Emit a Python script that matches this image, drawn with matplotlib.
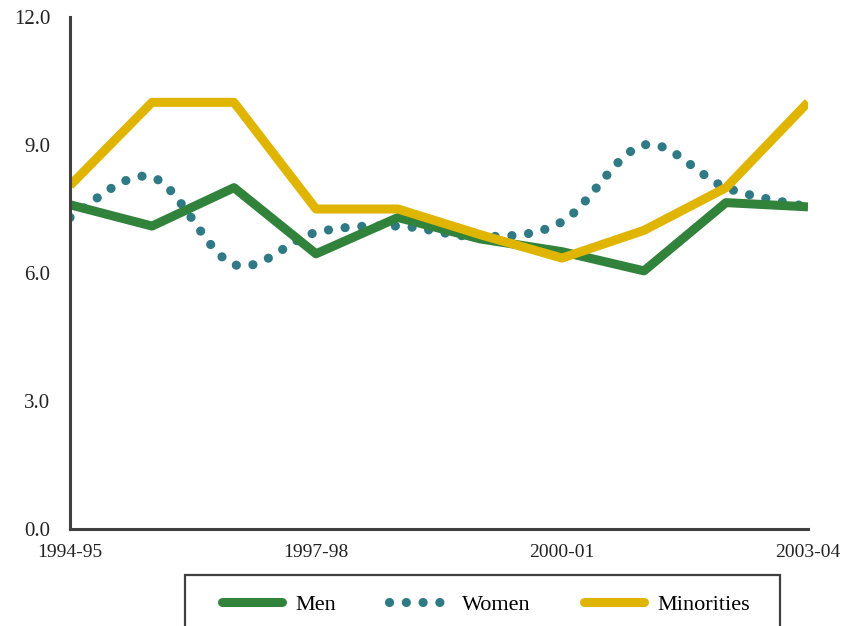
"""Men / Women / Minorities rates, 1994-95 to 2003-04."""

import matplotlib

matplotlib.use("Agg")
import matplotlib.pyplot as plt
import matplotlib.patches as mpatches
from matplotlib.lines import Line2D
from matplotlib.path import Path
import numpy as np

plt.rcParams["font.family"] = ["Liberation Serif", "DejaVu Serif"]

YEARS = ["1994-95", "1995-96", "1996-97", "1997-98", "1998-99",
         "1999-00", "2000-01", "2001-02", "2002-03", "2003-04"]
TICK_YEARS = ["1994-95", "1997-98", "2000-01", "2003-04"]

MEN = [7.6, 7.1, 8.0, 6.45, 7.3, 6.8, 6.5, 6.05, 7.65, 7.55]
WOMEN = [7.3, 8.25, 6.2, 6.95, 7.1, 6.85, 7.2, 9.0, 8.0, 7.55]
MINORITIES = [8.05, 10.0, 10.0, 7.5, 7.5, 6.9, 6.35, 7.0, 8.0, 10.0]

GREEN = "#31833B"
TEAL = "#2F7A84"
GOLD = "#E0B500"
AXIS = "#404040"


def smooth_path(xs, ys):
    """Excel-style smoothed line: cubic Bezier through every point."""
    pts = np.column_stack([xs, ys]).astype(float)
    n = len(pts)
    verts = [pts[0]]
    codes = [Path.MOVETO]
    for i in range(n - 1):
        p0 = pts[max(i - 1, 0)]
        p1 = pts[i]
        p2 = pts[i + 1]
        p3 = pts[min(i + 2, n - 1)]
        c1 = p1 + (p2 - p0) / 6
        c2 = p2 - (p3 - p1) / 6
        verts += [c1, c2, p2]
        codes += [Path.CURVE4] * 3
    return Path(verts, codes)


fig = plt.figure(figsize=(8.43, 6.26), dpi=100)
ax = fig.add_axes([70 / 843, 97 / 626, 738 / 843, 512 / 626])

x = np.arange(len(YEARS))
dot_style = (0, (0.01, 1.82))

ax.plot(x, MEN, color=GREEN, lw=6.5, solid_joinstyle="round",
        solid_capstyle="butt", label="Men")
women_patch = mpatches.PathPatch(
    smooth_path(x, WOMEN), facecolor="none", edgecolor=TEAL, lw=6.6,
    linestyle=dot_style, capstyle="round", transform=ax.transData)
ax.add_patch(women_patch)
ax.plot(x, MINORITIES, color=GOLD, lw=6.5, solid_joinstyle="round",
        solid_capstyle="butt", label="Minorities")

ax.set_xlim(0, len(YEARS) - 1)
ax.set_ylim(0, 12)
ax.set_yticks([0, 3, 6, 9, 12])
ax.set_yticklabels([f"{v:.1f}" for v in [0, 3, 6, 9, 12]])
ax.set_xticks([YEARS.index(t) for t in TICK_YEARS])
ax.set_xticklabels(TICK_YEARS)
ax.tick_params(axis="y", length=0, pad=14, labelsize=15, colors="#222222")
ax.tick_params(axis="x", length=0, pad=11, labelsize=14, colors="#222222")

ax.spines[["top", "right"]].set_visible(False)
for side in ["left", "bottom"]:
    ax.spines[side].set_color(AXIS)
    ax.spines[side].set_linewidth(2.2)

handles = [
    Line2D([], [], color=GREEN, lw=6.5, solid_capstyle="round"),
    Line2D([], [], color=TEAL, lw=6.6, linestyle=dot_style,
           dash_capstyle="round"),
    Line2D([], [], color=GOLD, lw=6.5, solid_capstyle="round"),
]
fig.legend(handles, ["Men", "Women", "Minorities"], ncol=3,
           loc="center", bbox_to_anchor=(486 / 843, 1 - 605 / 626),
           frameon=False, fontsize=16, handlelength=2.7,
           handletextpad=0.6, columnspacing=2.4)

fig.patches.append(mpatches.Rectangle(
    (185 / 843, -0.05), 595 / 843, 0.05 + 51 / 626,
    transform=fig.transFigure, facecolor="none", edgecolor=AXIS, lw=1.6))

fig.savefig("out.png", dpi=100)
